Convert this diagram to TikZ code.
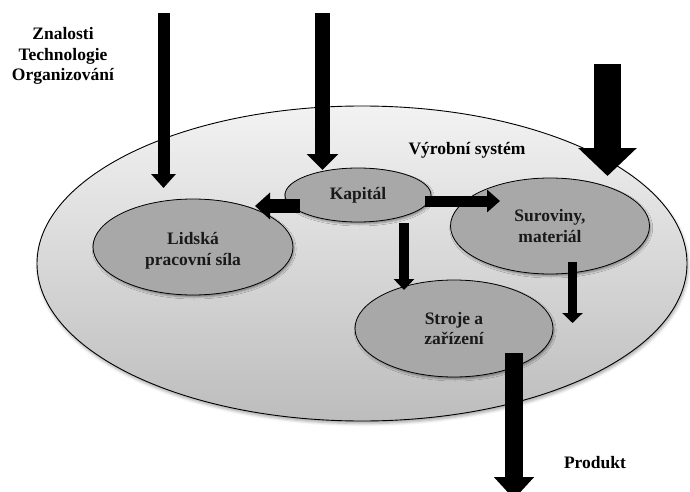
\documentclass[tikz,border=0pt]{standalone}
\usepackage{fontspec}
\setmainfont{Liberation Serif}
\usetikzlibrary{shapes.geometric,arrows.meta,shadows.blur}

\tikzset{
  lbl/.style={font=\bfseries\fontsize{17.5}{20.5}\selectfont, align=center, inner sep=0pt},
  sysbox/.style={ellipse, draw=black, line width=0.9pt, inner sep=0pt,
    top color=black!5, bottom color=black!26,
    blur shadow={shadow xshift=1pt, shadow yshift=-2.5pt, shadow blur radius=3pt, shadow opacity=35}},
  part/.style={ellipse, draw=black, line width=0.8pt, inner sep=0pt, fill=black!34,
    font=\bfseries\fontsize{17.5}{20.5}\selectfont, align=center, text=black!90,
    blur shadow={shadow xshift=1.2pt, shadow yshift=-2pt, shadow blur radius=2pt, shadow opacity=40}},
  blk/.style n args={3}{line width=#1, draw=black, line cap=butt,
    -{Triangle[width=#2, length=#3]}}
}

\begin{document}
\begin{tikzpicture}[x=1pt, y=-1pt]
  \useasboundingbox (0,0) rectangle (690,492);

  % production system and its parts
  \node[sysbox, minimum width=650pt, minimum height=315pt] (sys) at (362,263.5) {};
  \node[lbl] (sysl) at (467,150) {Výrobní systém};

  \node[part, minimum width=146pt, minimum height=54pt] (kap) at (358,195) {Kapitál};
  \node[part, minimum width=200pt, minimum height=96pt] (lid) at (193,247) {};
  \node[lbl, text=black!90] (lidt) at ([yshift=-4pt]lid.center) {Lidská\\pracovní síla};
  \node[part, minimum width=199pt, minimum height=96pt] (sur) at (550,226) {Suroviny,\\materiál};
  \node[part, minimum width=198pt, minimum height=97pt] (str) at (454,328.5) {Stroje a\\zařízení};

  % inputs and output labels
  \node[lbl] (inp) at (63,56) {Znalosti\\Technologie\\Organizování};
  \node[lbl] (prod) at (595,463) {Produkt};

  % arrow end points
  \coordinate (a1s) at (163.5,13);  \coordinate (a1e) at (163.5,188);
  \coordinate (a2s) at (322.5,13);  \coordinate (a2e) at (322.5,170);
  \coordinate (a3s) at (607.5,64);  \coordinate (a3e) at (607.5,176);
  \coordinate (a4s) at (300,206);   \coordinate (a4e) at (255,206);
  \coordinate (a5s) at (425,201);   \coordinate (a5e) at (500,201);
  \coordinate (a6s) at (404,223);   \coordinate (a6e) at (404,290);
  \coordinate (a7s) at (572.5,262); \coordinate (a7e) at (572.5,323);
  \coordinate (a8s) at (514,353);   \coordinate (a8e) at (514,499);

  % block arrows
  \draw[blk={12pt}{24pt}{14pt}] (a1s) -- (a1e);
  \draw[blk={15pt}{31pt}{16pt}] (a2s) -- (a2e);
  \draw[blk={27pt}{57pt}{28pt}] (a3s) -- (a3e);
  \draw[blk={14pt}{26pt}{15pt}] (a4s) -- (a4e);
  \draw[blk={11pt}{22pt}{13pt}] (a5s) -- (a5e);
  \draw[blk={10pt}{20pt}{11pt}] (a6s) -- (a6e);
  \draw[blk={9pt}{20pt}{10pt}] (a7s) -- (a7e);
  \draw[blk={18pt}{39pt}{22pt}] (a8s) -- (a8e);
\end{tikzpicture}
\end{document}
